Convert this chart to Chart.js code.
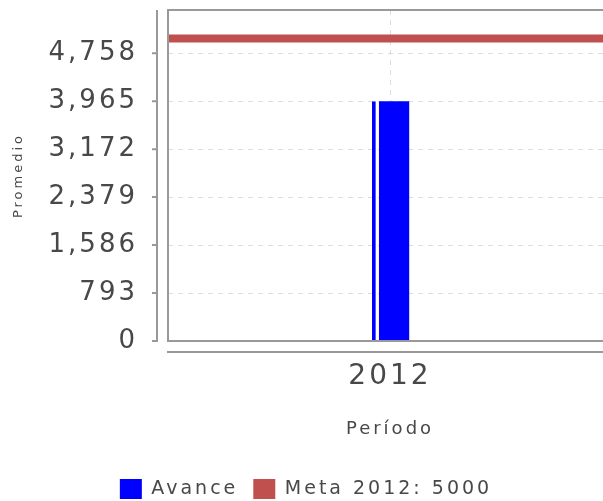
<!DOCTYPE html>
<html>
<head>
<meta charset="utf-8">
<script src="https://cdn.jsdelivr.net/npm/chart.js@4"></script>
<style>
  html, body { margin: 0; padding: 0; overflow: hidden; background: #fff; }
  #wrap { width: 613px; height: 509px; }
</style>
</head>
<body>
<div id="wrap"><canvas id="avance-chart" width="613" height="509"></canvas></div>
<script>
// Chart data
const periods = ["2012"];
const avance = [3965];
const meta = [5000];
const yTicks = [0, 793, 1586, 2379, 3172, 3965, 4758];
const yMax = 5472;

const textColor = "#484848";
const fontFamily = "'DejaVu Sans', Verdana, sans-serif";

// Frame + detached axes, drawn like the original plot
const plotFrame = {
  id: "plotFrame",
  beforeUpdate(chart) {
    chart.ctx.letterSpacing = "3px";
  },
  beforeDraw(chart) {
    chart.ctx.letterSpacing = "3px";
  },
  afterDatasetsDraw(chart) {
    const { ctx, chartArea: a, scales } = chart;
    ctx.save();
    ctx.strokeStyle = "#999";
    ctx.lineWidth = 2;
    ctx.strokeRect(a.left, a.top, a.right - a.left, a.bottom - a.top);

    // value axis sits a little left of the plot
    const axisX = a.left - 11;
    ctx.beginPath();
    ctx.moveTo(axisX, a.top);
    ctx.lineTo(axisX, a.bottom + 1);
    scales.y.ticks.forEach((t) => {
      const y = scales.y.getPixelForValue(t.value);
      ctx.moveTo(axisX - 5, y);
      ctx.lineTo(axisX, y);
    });

    // category axis sits a little below the plot
    const axisY = a.bottom + 11;
    ctx.moveTo(a.left - 1, axisY);
    ctx.lineTo(a.right, axisY);
    ctx.stroke();
    ctx.restore();
  },
};

function buildLegendLabels(chart) {
  return Chart.defaults.plugins.legend.labels
    .generateLabels(chart)
    .filter((l) => !chart.data.datasets[l.datasetIndex].hideInLegend)
    .map((l) => {
      const ds = chart.data.datasets[l.datasetIndex];
      return { ...l, fillStyle: ds.legendColor, strokeStyle: ds.legendColor, lineWidth: 0 };
    });
}

const ctx = document.getElementById("avance-chart").getContext("2d");

new Chart(ctx, {
  type: "bar",
  data: {
    labels: periods,
    datasets: [
      {
        // thin sliver on the left of the bar
        label: "Avance",
        data: avance,
        hideInLegend: true,
        legendColor: "#0000ff",
        grouped: false,
        barThickness: 35.4,
        backgroundColor: "rgba(0,0,0,0)",
        borderColor: "#0000ff",
        borderWidth: { left: 3, right: 0, top: 0, bottom: 0 },
      },
      {
        label: "Avance",
        data: avance,
        legendColor: "#0000ff",
        grouped: false,
        barThickness: 38.6,
        backgroundColor: "#0000ff",
        borderColor: "rgba(0,0,0,0)",
        borderWidth: { left: 8.6, right: 0, top: 0, bottom: 0 },
      },
      {
        type: "line",
        label: "Meta " + periods[0] + ": " + meta[0],
        legendColor: "#c0504d",
        xAxisID: "xMeta",
        data: [
          { x: 0, y: meta[0] },
          { x: 1, y: meta[0] },
        ],
        borderColor: "#c0504d",
        backgroundColor: "#c0504d",
        borderWidth: 8,
        pointRadius: 0,
      },
    ],
  },
  options: {
    responsive: false,
    animation: false,
    layout: {
      padding: { top: 10, right: 1, left: 0, bottom: 0 },
    },
    plugins: {
      tooltip: { enabled: false },
      legend: {
        position: "bottom",
        labels: {
          boxWidth: 22,
          boxHeight: 20,
          padding: 15,
          color: textColor,
          font: { family: fontFamily, size: 19 },
          generateLabels: buildLegendLabels,
        },
      },
    },
    scales: {
      x: {
        grid: {
          offset: false,
          drawTicks: false,
          color: "#ddd",
        },
        border: { display: false, dash: [5, 5] },
        ticks: {
          padding: 19,
          color: textColor,
          font: { family: fontFamily, size: 28 },
        },
        title: {
          display: true,
          text: "Período",
          color: textColor,
          padding: { top: 0, bottom: 24 },
          font: { family: fontFamily, size: 18 },
        },
        afterFit(scale) {
          scale.height = 123;
        },
      },
      xMeta: {
        type: "linear",
        display: false,
        offset: false,
        min: 0,
        max: 1,
      },
      y: {
        min: 0,
        max: yMax,
        grid: {
          drawTicks: false,
          color: "#ddd",
        },
        border: { display: false, dash: [5, 5] },
        ticks: {
          padding: 30,
          color: textColor,
          font: { family: fontFamily, size: 26 },
          callback: (v) => v.toLocaleString("en-US"),
        },
        afterBuildTicks(scale) {
          scale.ticks = yTicks.map((v) => ({ value: v }));
        },
        title: {
          display: true,
          text: "Promedio",
          color: textColor,
          padding: { top: 11, bottom: 0 },
          font: { family: fontFamily, size: 13 },
        },
        afterFit(scale) {
          scale.width = 168;
          scale.paddingTop = 0;
          scale.paddingBottom = 0;
        },
      },
    },
  },
  plugins: [plotFrame],
});
</script>
</body>
</html>
